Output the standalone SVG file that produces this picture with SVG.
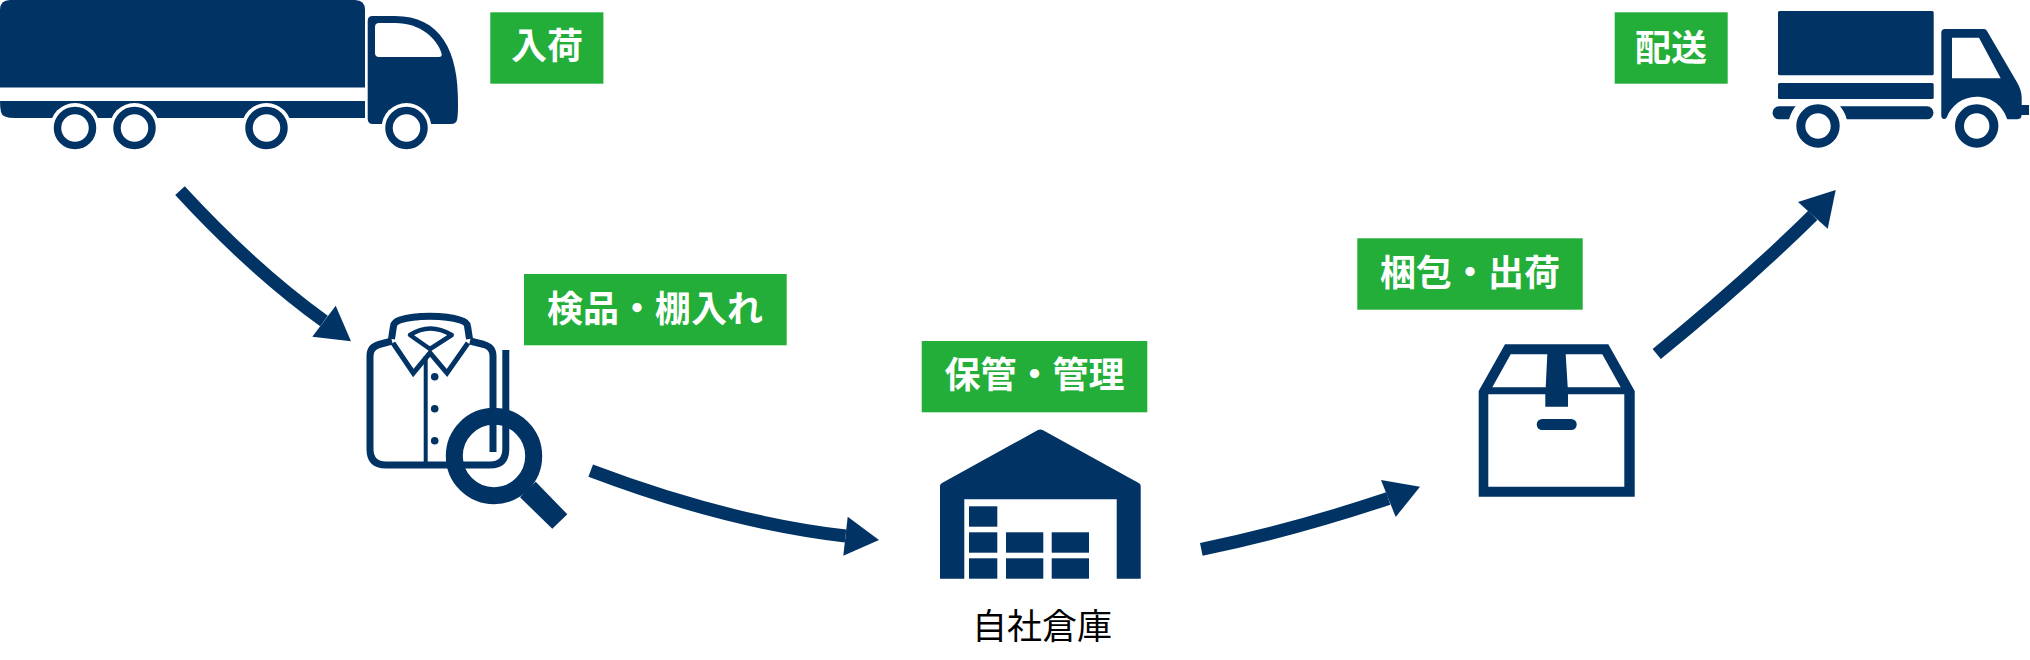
<svg xmlns="http://www.w3.org/2000/svg" width="2030" height="660" viewBox="0 0 2030 660">
<style>
.f{fill:#023365}
.s{fill:none;stroke:#023365}
.w{fill:#fff}
.box{fill:#23ae39}
.lb{fill:#fff;font-family:"Noto Sans CJK JP","Noto Sans CJK SC",sans-serif;font-size:36px;font-weight:700;text-anchor:middle}
.cap{fill:#000;font-family:"Noto Sans CJK JP","Noto Sans CJK SC",sans-serif;font-size:35px;text-anchor:middle}
.line{fill:none;stroke:#023365;stroke-width:13}
</style>
<rect width="2030" height="660" fill="#fff"/>
<g id="connectors">
<path class="line" d="M180,190.7Q251,268 324,321"/><polygon class="f" points="351,341.3 335.7,305.7 312.3,336.7"/>
<path class="line" d="M590.7,470.7Q726,522 845.5,536"/><polygon class="f" points="879,540 847.7,516.7 843.3,555.7"/>
<path class="line" d="M1201.3,549.3Q1291,531 1388.3,498.5"/><polygon class="f" points="1420,486.7 1381,480 1395.7,517"/>
<path class="line" d="M1656.7,354Q1745.2,282 1812.8,215.3"/><polygon class="f" points="1835.7,190 1798,202 1827.7,228.7"/>
</g>
<g id="node-nyuka">
<path class="f" d="M0,10Q0,0 10,0H355Q365,0 365,10V87.5H0Z"/>
<path class="f" d="M0,101H365V118H15Q2,118 1,112Q0,108 0,101Z"/>
<path class="f" d="M372.5,16H395C440,16 459,50 458,105Q458,116 457,120Q456,124 451,124H373Q367.7,124 367.7,119V21Q367.7,16 372.5,16Z"/>
<path class="w" d="M379,23H395C420,23 437,38 441.7,54Q442,57 439,57H379Q375,57 375,53V27Q375,23 379,23Z"/>
<circle class="w" cx="75" cy="128" r="25"/><circle class="w" cx="134.5" cy="128" r="25"/><circle class="w" cx="266.5" cy="128" r="25"/><circle class="w" cx="406.5" cy="128" r="25"/>
<circle class="s" cx="75" cy="128" r="17.5" stroke-width="7.5"/><circle class="s" cx="134.5" cy="128" r="17.5" stroke-width="7.5"/><circle class="s" cx="266.5" cy="128" r="17.5" stroke-width="7.5"/><circle class="s" cx="406.5" cy="128" r="17.5" stroke-width="7.5"/>
<rect class="box" x="490.3" y="12.3" width="113.1" height="71.4"/>
<text class="lb" x="547" y="59">入荷</text>
</g>
<g id="node-kenpin">
<path class="s" stroke-width="7" d="M392,341L379,344.5Q370,347 370,356V449Q370,465 386,465H490Q505.8,465 505.8,449V350"/>
<path class="s" stroke-width="7" d="M493,452V356Q493,347 484,344.5L470,341"/>
<path class="s" stroke-width="7" d="M391.5,339L393.5,326Q394,322 400,320C415,315 445,315 460,320Q467,322 467.5,326L469.5,339"/>
<path class="s" stroke-width="5" d="M393,343L413.3,373L430,353L447,373L468,343"/>
<path class="s" stroke-width="4.5" stroke-linejoin="round" d="M410,335Q430,322 451.7,335L430,349Z"/>
<path class="s" stroke-width="4" d="M425.7,356V465"/>
<circle class="f" cx="434.7" cy="376.7" r="3.8"/><circle class="f" cx="434.7" cy="408.7" r="3.8"/><circle class="f" cx="434.7" cy="440.7" r="3.8"/>
<circle class="s" cx="494" cy="456" r="39.7" stroke-width="17"/>
<polygon class="f" points="535.7,481.7 567.3,514.3 552.3,528.7 520,497.3"/>
<rect class="box" x="524" y="274" width="262.7" height="71.3"/>
<text class="lb" x="655" y="322">検品・棚入れ</text>
</g>
<g id="node-hokan">
<path class="f" fill-rule="evenodd" d="M940,578.7V486Q940,484 942,483L1038,430Q1040.3,429 1042.6,430L1138.7,483Q1140.7,484 1140.7,486V578.7H1116.7V499.3H964.3V578.7Z"/>
<rect class="f" x="969" y="506.3" width="28.3" height="20.4"/><rect class="f" x="969" y="532.3" width="28.3" height="20.4"/><rect class="f" x="969" y="558.3" width="28.3" height="20.4"/>
<rect class="f" x="1006" y="532.3" width="37.3" height="20.4"/><rect class="f" x="1006" y="558.3" width="37.3" height="20.4"/>
<rect class="f" x="1051.7" y="532.3" width="37.3" height="20.4"/><rect class="f" x="1051.7" y="558.3" width="37.3" height="20.4"/>
<rect class="box" x="921.7" y="341" width="225.6" height="71.3"/>
<text class="lb" x="1034.5" y="388">保管・管理</text>
<text class="cap" x="1042" y="639">自社倉庫</text>
</g>
<g id="node-konpo">
<path class="f" fill-rule="evenodd" d="M1505,344.3H1608.3L1634.7,391V496.7H1478.7V391ZM1510.7,354.3L1492.3,387.3H1545.7L1547.3,354.3ZM1565.7,354.3L1567.7,387.3H1620.7L1602.3,354.3ZM1488.3,394.3V486.7H1624.3V394.3H1568V406.7H1545.3V394.3Z"/>
<rect class="f" x="1536.7" y="419" width="40" height="11" rx="5.5"/>
<rect class="box" x="1357.3" y="238.3" width="225.4" height="71.4"/>
<text class="lb" x="1470" y="286">梱包・出荷</text>
</g>
<g id="node-haiso">
<rect class="f" x="1778" y="11" width="155.7" height="64.3" rx="1.5"/>
<rect class="f" x="1778" y="83" width="155.7" height="16" rx="1.5"/>
<path class="f" d="M1779,106.3H1795.7Q1792,110 1789,119.3H1779A6.5,6.5 0 0 1 1779,106.3Z"/>
<path class="f" d="M1840,106.3H1927A6.5,6.5 0 0 1 1927,119.3H1846.7Q1845,112 1840,106.3Z"/>
<path class="f" fill-rule="evenodd" d="M1945,29H1984Q1986,29 1987,31L2016.7,81.7Q2021.7,90 2021.7,98V105H2029V115H2021.5Q2021.5,119.3 2017,119.3H2007.3C2003,106 1992,96.7 1976.7,96.7C1962,96.7 1951,106 1946.7,117.5Q1945,119.5 1943.5,119Q1941.3,118.5 1941.3,116V33Q1941.3,29 1945,29ZM1952,37.7V78.3H2000.7L1979,37.7Z"/>
<circle class="s" cx="1818" cy="126" r="17.2" stroke-width="9"/>
<circle class="s" cx="1976.7" cy="126" r="17.2" stroke-width="9"/>
<rect class="box" x="1614.7" y="12.3" width="113" height="71.4"/>
<text class="lb" x="1671" y="61">配送</text>
</g>
</svg>
